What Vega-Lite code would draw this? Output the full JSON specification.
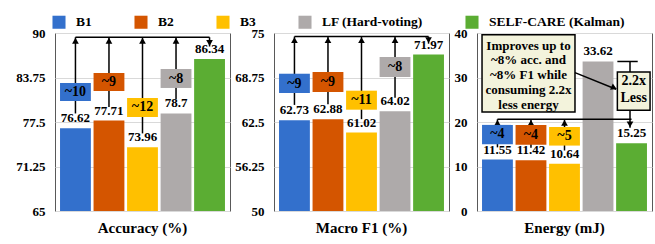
{
  "$schema": "https://vega.github.io/schema/vega-lite/v6.json",
  "padding": {"left": 15, "top": 15, "right": 4, "bottom": 4},
  "spacing": 3,
  "datasets": {
    "acc": [
      {"method": "B1", "value": 76.62},
      {"method": "B2", "value": 77.71},
      {"method": "B3", "value": 73.96},
      {"method": "LF (Hard-voting)", "value": 78.7},
      {"method": "SELF-CARE (Kalman)", "value": 86.34}
    ],
    "f1": [
      {"method": "B1", "value": 62.73},
      {"method": "B2", "value": 62.88},
      {"method": "B3", "value": 61.02},
      {"method": "LF (Hard-voting)", "value": 64.02},
      {"method": "SELF-CARE (Kalman)", "value": 71.97}
    ],
    "en": [
      {"method": "B1", "value": 11.55},
      {"method": "B2", "value": 11.42},
      {"method": "B3", "value": 10.64},
      {"method": "LF (Hard-voting)", "value": 33.62},
      {"method": "SELF-CARE (Kalman)", "value": 15.25}
    ],
    "accArrow": [
      {"method": "B1", "lo": 78.7, "hi": 89.4, "blo": 80.45, "bhi": 82.98, "bmid": 81.7, "lab": "~10"},
      {"method": "B2", "lo": 79.6, "hi": 89.4, "blo": 81.85, "bhi": 84.38, "bmid": 83.1, "lab": "~9"},
      {"method": "B3", "lo": 75.9, "hi": 89.4, "blo": 78.2, "bhi": 80.87, "bmid": 79.55, "lab": "~12"},
      {"method": "LF (Hard-voting)", "lo": 80.7, "hi": 89.4, "blo": 82.28, "bhi": 84.94, "bmid": 83.6, "lab": "~8"}
    ],
    "accLine": [{"from": "B1", "to": "SELF-CARE (Kalman)", "y": 89.4, "tip": 88.1}],
    "f1Arrow": [
      {"method": "B1", "lo": 64.9, "hi": 74.5, "blo": 66.57, "bhi": 69.28, "bmid": 67.9, "lab": "~9"},
      {"method": "B2", "lo": 65.0, "hi": 74.5, "blo": 66.71, "bhi": 69.52, "bmid": 68.1, "lab": "~9"},
      {"method": "B3", "lo": 62.9, "hi": 74.5, "blo": 64.23, "bhi": 66.9, "bmid": 65.55, "lab": "~11"},
      {"method": "LF (Hard-voting)", "lo": 65.9, "hi": 74.5, "blo": 68.82, "bhi": 71.63, "bmid": 70.2, "lab": "~8"}
    ],
    "f1Line": [{"from": "B1", "to": "SELF-CARE (Kalman)", "y": 74.5, "tip": 73.5}],
    "enArrow": [
      {"method": "B1", "lo": 14.3, "hi": 20.6, "blo": 15.0, "bhi": 19.35, "bmid": 17.2, "lab": "~4"},
      {"method": "B2", "lo": 14.2, "hi": 20.6, "blo": 14.9, "bhi": 19.3, "bmid": 17.1, "lab": "~4"},
      {"method": "B3", "lo": 13.6, "hi": 20.6, "blo": 14.7, "bhi": 18.88, "bmid": 16.8, "lab": "~5"}
    ],
    "enLine": [{"from": "B1", "to": "SELF-CARE (Kalman)", "y": 20.6, "cap": 33.6, "tip": 18.7}],
    "enBigBox": [{"from": "B1", "to": "B3", "at": "B2", "lo": 22.25, "hi": 39.62, "top": 38.5, "text": "Improves up to\n~8% acc. and\n~8% F1 while\nconsuming 2.2x\nless energy"}],
    "enSmallBox": [{"at": "SELF-CARE (Kalman)", "lo": 22.63, "hi": 31.24, "top": 30.75, "text": "2.2x\nLess"}],
    "enDiag": [{"from": "B3", "to": "SELF-CARE (Kalman)", "head": "LF (Hard-voting)", "y1": 31.1, "y2": 27.37, "yh": 27.68}]
  },
  "hconcat": [
    {
      "width": 175, "height": 178,
      "title": {"text": "Accuracy (%)"},
      "layer": [
        {"data": {"name": "acc"}, "mark": {"type": "bar"},
         "encoding": {
           "x": {"field": "method", "type": "nominal", "scale": {"domain": ["B1","B2","B3","LF (Hard-voting)","SELF-CARE (Kalman)"], "paddingInner": 0.08, "paddingOuter": 0.15}, "axis": null},
           "y": {"field": "value", "type": "quantitative", "scale": {"domain": [65, 90], "nice": false, "zero": false}, "axis": {"values": [65, 71.25, 77.5, 83.75, 90], "title": null, "labelExpr": "datum.value"}},
           "y2": {"datum": 65},
           "color": {"field": "method", "type": "nominal", "scale": {"domain": ["B1","B2","B3","LF (Hard-voting)","SELF-CARE (Kalman)"], "range": ["#3370CC","#D45500","#FFC000","#AEAAAA","#5BAD33"]}, "legend": {"orient": "none", "legendX": -3, "legendY": -18, "direction": "horizontal", "title": null}}
         }},
        {"data": {"name": "acc"}, "mark": {"type": "text", "baseline": "bottom", "dy": -3},
         "encoding": {
           "x": {"field": "method", "type": "nominal", "scale": {"domain": ["B1","B2","B3","LF (Hard-voting)","SELF-CARE (Kalman)"], "paddingInner": 0.08, "paddingOuter": 0.15}, "axis": null},
           "y": {"field": "value", "type": "quantitative", "scale": {"domain": [65, 90], "nice": false, "zero": false}, "axis": {"values": [65, 71.25, 77.5, 83.75, 90], "title": null, "labelExpr": "datum.value"}},
           "text": {"field": "value"}
         }},
        {"data": {"name": "accArrow"}, "mark": {"type": "rule", "color": "black", "strokeWidth": 1.5},
         "encoding": {
           "x": {"field": "method", "type": "nominal", "scale": {"domain": ["B1","B2","B3","LF (Hard-voting)","SELF-CARE (Kalman)"], "paddingInner": 0.08, "paddingOuter": 0.15}, "axis": null},
           "y": {"field": "lo", "type": "quantitative", "scale": {"domain": [65, 90], "nice": false, "zero": false}, "axis": {"values": [65, 71.25, 77.5, 83.75, 90], "title": null, "labelExpr": "datum.value"}},
           "y2": {"field": "hi"}
         }},
        {"data": {"name": "accLine"}, "mark": {"type": "rule", "color": "black", "strokeWidth": 1.5},
         "encoding": {
           "x": {"field": "from", "type": "nominal", "scale": {"domain": ["B1","B2","B3","LF (Hard-voting)","SELF-CARE (Kalman)"], "paddingInner": 0.08, "paddingOuter": 0.15}, "axis": null},
           "x2": {"field": "to"},
           "y": {"field": "y", "type": "quantitative", "scale": {"domain": [65, 90], "nice": false, "zero": false}, "axis": {"values": [65, 71.25, 77.5, 83.75, 90], "title": null, "labelExpr": "datum.value"}}
         }},
        {"data": {"name": "accLine"}, "mark": {"type": "rule", "color": "black", "strokeWidth": 1.5},
         "encoding": {
           "x": {"field": "to", "type": "nominal", "scale": {"domain": ["B1","B2","B3","LF (Hard-voting)","SELF-CARE (Kalman)"], "paddingInner": 0.08, "paddingOuter": 0.15}, "axis": null},
           "y": {"field": "y", "type": "quantitative", "scale": {"domain": [65, 90], "nice": false, "zero": false}, "axis": {"values": [65, 71.25, 77.5, 83.75, 90], "title": null, "labelExpr": "datum.value"}},
           "y2": {"field": "tip"}
         }},
        {"data": {"name": "accArrow"}, "mark": {"type": "point", "shape": "triangle-up", "filled": true, "color": "black", "size": 45, "opacity": 1, "yOffset": 3.5},
         "encoding": {
           "x": {"field": "method", "type": "nominal", "scale": {"domain": ["B1","B2","B3","LF (Hard-voting)","SELF-CARE (Kalman)"], "paddingInner": 0.08, "paddingOuter": 0.15}, "axis": null},
           "y": {"field": "hi", "type": "quantitative", "scale": {"domain": [65, 90], "nice": false, "zero": false}, "axis": {"values": [65, 71.25, 77.5, 83.75, 90], "title": null, "labelExpr": "datum.value"}}
         }},
        {"data": {"name": "accLine"}, "mark": {"type": "point", "shape": "triangle-down", "filled": true, "color": "black", "size": 45, "opacity": 1, "yOffset": -3.5},
         "encoding": {
           "x": {"field": "to", "type": "nominal", "scale": {"domain": ["B1","B2","B3","LF (Hard-voting)","SELF-CARE (Kalman)"], "paddingInner": 0.08, "paddingOuter": 0.15}, "axis": null},
           "y": {"field": "tip", "type": "quantitative", "scale": {"domain": [65, 90], "nice": false, "zero": false}, "axis": {"values": [65, 71.25, 77.5, 83.75, 90], "title": null, "labelExpr": "datum.value"}}
         }},
        {"data": {"name": "accArrow"}, "mark": {"type": "bar"},
         "encoding": {
           "x": {"field": "method", "type": "nominal", "scale": {"domain": ["B1","B2","B3","LF (Hard-voting)","SELF-CARE (Kalman)"], "paddingInner": 0.08, "paddingOuter": 0.15}, "axis": null},
           "y": {"field": "blo", "type": "quantitative", "scale": {"domain": [65, 90], "nice": false, "zero": false}, "axis": {"values": [65, 71.25, 77.5, 83.75, 90], "title": null, "labelExpr": "datum.value"}},
           "y2": {"field": "bhi"},
           "color": {"field": "method", "type": "nominal", "scale": {"domain": ["B1","B2","B3","LF (Hard-voting)","SELF-CARE (Kalman)"], "range": ["#3370CC","#D45500","#FFC000","#AEAAAA","#5BAD33"]}, "legend": null}
         }},
        {"data": {"name": "accArrow"}, "mark": {"type": "text", "baseline": "middle", "fontSize": 14},
         "encoding": {
           "x": {"field": "method", "type": "nominal", "scale": {"domain": ["B1","B2","B3","LF (Hard-voting)","SELF-CARE (Kalman)"], "paddingInner": 0.08, "paddingOuter": 0.15}, "axis": null},
           "y": {"field": "bmid", "type": "quantitative", "scale": {"domain": [65, 90], "nice": false, "zero": false}, "axis": {"values": [65, 71.25, 77.5, 83.75, 90], "title": null, "labelExpr": "datum.value"}},
           "text": {"field": "lab"}
         }}
      ]
    },
    {
      "width": 175, "height": 178,
      "title": {"text": "Macro F1 (%)"},
      "layer": [
        {"data": {"name": "f1"}, "mark": {"type": "bar"},
         "encoding": {
           "x": {"field": "method", "type": "nominal", "scale": {"domain": ["B1","B2","B3","LF (Hard-voting)","SELF-CARE (Kalman)"], "paddingInner": 0.08, "paddingOuter": 0.15}, "axis": null},
           "y": {"field": "value", "type": "quantitative", "scale": {"domain": [50, 75], "nice": false, "zero": false}, "axis": {"values": [50, 56.25, 62.5, 68.75, 75], "title": null, "labelExpr": "datum.value"}},
           "y2": {"datum": 50},
           "color": {"field": "method", "type": "nominal", "scale": {"domain": ["B1","B2","B3","LF (Hard-voting)","SELF-CARE (Kalman)"], "range": ["#3370CC","#D45500","#FFC000","#AEAAAA","#5BAD33"]}, "legend": {"orient": "none", "legendX": -3, "legendY": -18, "direction": "horizontal", "title": null}}
         }},
        {"data": {"name": "f1"}, "mark": {"type": "text", "baseline": "bottom", "dy": -3},
         "encoding": {
           "x": {"field": "method", "type": "nominal", "scale": {"domain": ["B1","B2","B3","LF (Hard-voting)","SELF-CARE (Kalman)"], "paddingInner": 0.08, "paddingOuter": 0.15}, "axis": null},
           "y": {"field": "value", "type": "quantitative", "scale": {"domain": [50, 75], "nice": false, "zero": false}, "axis": {"values": [50, 56.25, 62.5, 68.75, 75], "title": null, "labelExpr": "datum.value"}},
           "text": {"field": "value"}
         }},
        {"data": {"name": "f1Arrow"}, "mark": {"type": "rule", "color": "black", "strokeWidth": 1.5},
         "encoding": {
           "x": {"field": "method", "type": "nominal", "scale": {"domain": ["B1","B2","B3","LF (Hard-voting)","SELF-CARE (Kalman)"], "paddingInner": 0.08, "paddingOuter": 0.15}, "axis": null},
           "y": {"field": "lo", "type": "quantitative", "scale": {"domain": [50, 75], "nice": false, "zero": false}, "axis": {"values": [50, 56.25, 62.5, 68.75, 75], "title": null, "labelExpr": "datum.value"}},
           "y2": {"field": "hi"}
         }},
        {"data": {"name": "f1Line"}, "mark": {"type": "rule", "color": "black", "strokeWidth": 1.5},
         "encoding": {
           "x": {"field": "from", "type": "nominal", "scale": {"domain": ["B1","B2","B3","LF (Hard-voting)","SELF-CARE (Kalman)"], "paddingInner": 0.08, "paddingOuter": 0.15}, "axis": null},
           "x2": {"field": "to"},
           "y": {"field": "y", "type": "quantitative", "scale": {"domain": [50, 75], "nice": false, "zero": false}, "axis": {"values": [50, 56.25, 62.5, 68.75, 75], "title": null, "labelExpr": "datum.value"}}
         }},
        {"data": {"name": "f1Line"}, "mark": {"type": "rule", "color": "black", "strokeWidth": 1.5},
         "encoding": {
           "x": {"field": "to", "type": "nominal", "scale": {"domain": ["B1","B2","B3","LF (Hard-voting)","SELF-CARE (Kalman)"], "paddingInner": 0.08, "paddingOuter": 0.15}, "axis": null},
           "y": {"field": "y", "type": "quantitative", "scale": {"domain": [50, 75], "nice": false, "zero": false}, "axis": {"values": [50, 56.25, 62.5, 68.75, 75], "title": null, "labelExpr": "datum.value"}},
           "y2": {"field": "tip"}
         }},
        {"data": {"name": "f1Arrow"}, "mark": {"type": "point", "shape": "triangle-up", "filled": true, "color": "black", "size": 45, "opacity": 1, "yOffset": 3.5},
         "encoding": {
           "x": {"field": "method", "type": "nominal", "scale": {"domain": ["B1","B2","B3","LF (Hard-voting)","SELF-CARE (Kalman)"], "paddingInner": 0.08, "paddingOuter": 0.15}, "axis": null},
           "y": {"field": "hi", "type": "quantitative", "scale": {"domain": [50, 75], "nice": false, "zero": false}, "axis": {"values": [50, 56.25, 62.5, 68.75, 75], "title": null, "labelExpr": "datum.value"}}
         }},
        {"data": {"name": "f1Line"}, "mark": {"type": "point", "shape": "triangle-down", "filled": true, "color": "black", "size": 45, "opacity": 1, "yOffset": -3.5},
         "encoding": {
           "x": {"field": "to", "type": "nominal", "scale": {"domain": ["B1","B2","B3","LF (Hard-voting)","SELF-CARE (Kalman)"], "paddingInner": 0.08, "paddingOuter": 0.15}, "axis": null},
           "y": {"field": "tip", "type": "quantitative", "scale": {"domain": [50, 75], "nice": false, "zero": false}, "axis": {"values": [50, 56.25, 62.5, 68.75, 75], "title": null, "labelExpr": "datum.value"}}
         }},
        {"data": {"name": "f1Arrow"}, "mark": {"type": "bar"},
         "encoding": {
           "x": {"field": "method", "type": "nominal", "scale": {"domain": ["B1","B2","B3","LF (Hard-voting)","SELF-CARE (Kalman)"], "paddingInner": 0.08, "paddingOuter": 0.15}, "axis": null},
           "y": {"field": "blo", "type": "quantitative", "scale": {"domain": [50, 75], "nice": false, "zero": false}, "axis": {"values": [50, 56.25, 62.5, 68.75, 75], "title": null, "labelExpr": "datum.value"}},
           "y2": {"field": "bhi"},
           "color": {"field": "method", "type": "nominal", "scale": {"domain": ["B1","B2","B3","LF (Hard-voting)","SELF-CARE (Kalman)"], "range": ["#3370CC","#D45500","#FFC000","#AEAAAA","#5BAD33"]}, "legend": null}
         }},
        {"data": {"name": "f1Arrow"}, "mark": {"type": "text", "baseline": "middle", "fontSize": 14},
         "encoding": {
           "x": {"field": "method", "type": "nominal", "scale": {"domain": ["B1","B2","B3","LF (Hard-voting)","SELF-CARE (Kalman)"], "paddingInner": 0.08, "paddingOuter": 0.15}, "axis": null},
           "y": {"field": "bmid", "type": "quantitative", "scale": {"domain": [50, 75], "nice": false, "zero": false}, "axis": {"values": [50, 56.25, 62.5, 68.75, 75], "title": null, "labelExpr": "datum.value"}},
           "text": {"field": "lab"}
         }}
      ]
    },
    {
      "width": 175, "height": 178,
      "title": {"text": "Energy (mJ)"},
      "layer": [
        {"data": {"name": "en"}, "mark": {"type": "bar"},
         "encoding": {
           "x": {"field": "method", "type": "nominal", "scale": {"domain": ["B1","B2","B3","LF (Hard-voting)","SELF-CARE (Kalman)"], "paddingInner": 0.08, "paddingOuter": 0.15}, "axis": null},
           "y": {"field": "value", "type": "quantitative", "scale": {"domain": [0, 40], "nice": false}, "axis": {"values": [0, 10, 20, 30, 40], "title": null, "labelExpr": "datum.value"}},
           "color": {"field": "method", "type": "nominal", "scale": {"domain": ["B1","B2","B3","LF (Hard-voting)","SELF-CARE (Kalman)"], "range": ["#3370CC","#D45500","#FFC000","#AEAAAA","#5BAD33"]}, "legend": {"orient": "none", "legendX": -3, "legendY": -18, "direction": "horizontal", "title": null}}
         }},
        {"data": {"name": "en"}, "mark": {"type": "text", "baseline": "bottom", "dy": -3},
         "encoding": {
           "x": {"field": "method", "type": "nominal", "scale": {"domain": ["B1","B2","B3","LF (Hard-voting)","SELF-CARE (Kalman)"], "paddingInner": 0.08, "paddingOuter": 0.15}, "axis": null},
           "y": {"field": "value", "type": "quantitative", "scale": {"domain": [0, 40], "nice": false}, "axis": {"values": [0, 10, 20, 30, 40], "title": null, "labelExpr": "datum.value"}},
           "text": {"field": "value"}
         }},
        {"data": {"name": "enArrow"}, "mark": {"type": "rule", "color": "black", "strokeWidth": 1.5},
         "encoding": {
           "x": {"field": "method", "type": "nominal", "scale": {"domain": ["B1","B2","B3","LF (Hard-voting)","SELF-CARE (Kalman)"], "paddingInner": 0.08, "paddingOuter": 0.15}, "axis": null},
           "y": {"field": "lo", "type": "quantitative", "scale": {"domain": [0, 40], "nice": false}, "axis": {"values": [0, 10, 20, 30, 40], "title": null, "labelExpr": "datum.value"}},
           "y2": {"field": "hi"}
         }},
        {"data": {"name": "enLine"}, "mark": {"type": "rule", "color": "black", "strokeWidth": 1.5},
         "encoding": {
           "x": {"field": "from", "type": "nominal", "scale": {"domain": ["B1","B2","B3","LF (Hard-voting)","SELF-CARE (Kalman)"], "paddingInner": 0.08, "paddingOuter": 0.15}, "axis": null},
           "x2": {"field": "to"},
           "y": {"field": "y", "type": "quantitative", "scale": {"domain": [0, 40], "nice": false}, "axis": {"values": [0, 10, 20, 30, 40], "title": null, "labelExpr": "datum.value"}}
         }},
        {"data": {"name": "enLine"}, "mark": {"type": "rule", "color": "black", "strokeWidth": 1.5},
         "encoding": {
           "x": {"field": "to", "type": "nominal", "bandPosition": 0.45, "scale": {"domain": ["B1","B2","B3","LF (Hard-voting)","SELF-CARE (Kalman)"], "paddingInner": 0.08, "paddingOuter": 0.15}, "axis": null},
           "y": {"field": "cap", "type": "quantitative", "scale": {"domain": [0, 40], "nice": false}, "axis": {"values": [0, 10, 20, 30, 40], "title": null, "labelExpr": "datum.value"}},
           "y2": {"field": "tip"}
         }},
        {"data": {"name": "enLine"}, "mark": {"type": "rule", "color": "black", "strokeWidth": 1.5},
         "encoding": {
           "x": {"field": "to", "type": "nominal", "bandPosition": 0.04, "scale": {"domain": ["B1","B2","B3","LF (Hard-voting)","SELF-CARE (Kalman)"], "paddingInner": 0.08, "paddingOuter": 0.15}, "axis": null},
           "x2": {"field": "to", "bandPosition": 0.7},
           "y": {"field": "cap", "type": "quantitative", "scale": {"domain": [0, 40], "nice": false}, "axis": {"values": [0, 10, 20, 30, 40], "title": null, "labelExpr": "datum.value"}}
         }},
        {"data": {"name": "enArrow"}, "mark": {"type": "point", "shape": "triangle-up", "filled": true, "color": "black", "size": 45, "opacity": 1, "yOffset": 3.5},
         "encoding": {
           "x": {"field": "method", "type": "nominal", "scale": {"domain": ["B1","B2","B3","LF (Hard-voting)","SELF-CARE (Kalman)"], "paddingInner": 0.08, "paddingOuter": 0.15}, "axis": null},
           "y": {"field": "hi", "type": "quantitative", "scale": {"domain": [0, 40], "nice": false}, "axis": {"values": [0, 10, 20, 30, 40], "title": null, "labelExpr": "datum.value"}}
         }},
        {"data": {"name": "enLine"}, "mark": {"type": "point", "shape": "triangle-down", "filled": true, "color": "black", "size": 45, "opacity": 1, "yOffset": -3.5},
         "encoding": {
           "x": {"field": "to", "type": "nominal", "bandPosition": 0.45, "scale": {"domain": ["B1","B2","B3","LF (Hard-voting)","SELF-CARE (Kalman)"], "paddingInner": 0.08, "paddingOuter": 0.15}, "axis": null},
           "y": {"field": "tip", "type": "quantitative", "scale": {"domain": [0, 40], "nice": false}, "axis": {"values": [0, 10, 20, 30, 40], "title": null, "labelExpr": "datum.value"}}
         }},
        {"data": {"name": "enArrow"}, "mark": {"type": "bar"},
         "encoding": {
           "x": {"field": "method", "type": "nominal", "scale": {"domain": ["B1","B2","B3","LF (Hard-voting)","SELF-CARE (Kalman)"], "paddingInner": 0.08, "paddingOuter": 0.15}, "axis": null},
           "y": {"field": "blo", "type": "quantitative", "scale": {"domain": [0, 40], "nice": false}, "axis": {"values": [0, 10, 20, 30, 40], "title": null, "labelExpr": "datum.value"}},
           "y2": {"field": "bhi"},
           "color": {"field": "method", "type": "nominal", "scale": {"domain": ["B1","B2","B3","LF (Hard-voting)","SELF-CARE (Kalman)"], "range": ["#3370CC","#D45500","#FFC000","#AEAAAA","#5BAD33"]}, "legend": null}
         }},
        {"data": {"name": "enArrow"}, "mark": {"type": "text", "baseline": "middle", "fontSize": 14},
         "encoding": {
           "x": {"field": "method", "type": "nominal", "scale": {"domain": ["B1","B2","B3","LF (Hard-voting)","SELF-CARE (Kalman)"], "paddingInner": 0.08, "paddingOuter": 0.15}, "axis": null},
           "y": {"field": "bmid", "type": "quantitative", "scale": {"domain": [0, 40], "nice": false}, "axis": {"values": [0, 10, 20, 30, 40], "title": null, "labelExpr": "datum.value"}},
           "text": {"field": "lab"}
         }},
        {"data": {"name": "enBigBox"}, "mark": {"type": "rect", "fill": "#F3F3DC", "stroke": "black", "strokeWidth": 1.5},
         "encoding": {
           "x": {"field": "from", "type": "nominal", "bandPosition": 0, "scale": {"domain": ["B1","B2","B3","LF (Hard-voting)","SELF-CARE (Kalman)"], "paddingInner": 0.08, "paddingOuter": 0.15}, "axis": null},
           "x2": {"field": "to", "bandPosition": 0.84},
           "y": {"field": "lo", "type": "quantitative", "scale": {"domain": [0, 40], "nice": false}, "axis": {"values": [0, 10, 20, 30, 40], "title": null, "labelExpr": "datum.value"}},
           "y2": {"field": "hi"}
         }},
        {"data": {"name": "enBigBox"}, "mark": {"type": "text", "baseline": "top", "fontSize": 13, "lineBreak": "\n", "lineHeight": 14.8},
         "encoding": {
           "x": {"field": "at", "type": "nominal", "bandPosition": 0.42, "scale": {"domain": ["B1","B2","B3","LF (Hard-voting)","SELF-CARE (Kalman)"], "paddingInner": 0.08, "paddingOuter": 0.15}, "axis": null},
           "y": {"field": "top", "type": "quantitative", "scale": {"domain": [0, 40], "nice": false}, "axis": {"values": [0, 10, 20, 30, 40], "title": null, "labelExpr": "datum.value"}},
           "text": {"field": "text"}
         }},
        {"data": {"name": "enDiag"}, "mark": {"type": "rule", "color": "black", "strokeWidth": 1.5},
         "encoding": {
           "x": {"field": "from", "type": "nominal", "bandPosition": 0.84, "scale": {"domain": ["B1","B2","B3","LF (Hard-voting)","SELF-CARE (Kalman)"], "paddingInner": 0.08, "paddingOuter": 0.15}, "axis": null},
           "x2": {"field": "to", "bandPosition": 0.0},
           "y": {"field": "y1", "type": "quantitative", "scale": {"domain": [0, 40], "nice": false}, "axis": {"values": [0, 10, 20, 30, 40], "title": null, "labelExpr": "datum.value"}},
           "y2": {"field": "y2"}
         }},
        {"data": {"name": "enDiag"}, "mark": {"type": "point", "shape": "triangle-right", "filled": true, "color": "black", "size": 45, "opacity": 1, "angle": 24},
         "encoding": {
           "x": {"field": "head", "type": "nominal", "bandPosition": 1.02, "scale": {"domain": ["B1","B2","B3","LF (Hard-voting)","SELF-CARE (Kalman)"], "paddingInner": 0.08, "paddingOuter": 0.15}, "axis": null},
           "y": {"field": "yh", "type": "quantitative", "scale": {"domain": [0, 40], "nice": false}, "axis": {"values": [0, 10, 20, 30, 40], "title": null, "labelExpr": "datum.value"}}
         }},
        {"data": {"name": "enSmallBox"}, "mark": {"type": "rect", "fill": "#F3F3DC", "stroke": "black", "strokeWidth": 1.5},
         "encoding": {
           "x": {"field": "at", "type": "nominal", "bandPosition": 0.04, "scale": {"domain": ["B1","B2","B3","LF (Hard-voting)","SELF-CARE (Kalman)"], "paddingInner": 0.08, "paddingOuter": 0.15}, "axis": null},
           "x2": {"field": "at", "bandPosition": 1.1},
           "y": {"field": "lo", "type": "quantitative", "scale": {"domain": [0, 40], "nice": false}, "axis": {"values": [0, 10, 20, 30, 40], "title": null, "labelExpr": "datum.value"}},
           "y2": {"field": "hi"}
         }},
        {"data": {"name": "enSmallBox"}, "mark": {"type": "text", "baseline": "top", "fontSize": 14, "lineBreak": "\n", "lineHeight": 17},
         "encoding": {
           "x": {"field": "at", "type": "nominal", "bandPosition": 0.57, "scale": {"domain": ["B1","B2","B3","LF (Hard-voting)","SELF-CARE (Kalman)"], "paddingInner": 0.08, "paddingOuter": 0.15}, "axis": null},
           "y": {"field": "top", "type": "quantitative", "scale": {"domain": [0, 40], "nice": false}, "axis": {"values": [0, 10, 20, 30, 40], "title": null, "labelExpr": "datum.value"}},
           "text": {"field": "text"}
         }}
      ]
    }
  ],
  "config": {
    "font": "Liberation Serif",
    "background": "white",
    "view": {"stroke": "#595959", "strokeWidth": 1},
    "title": {"orient": "bottom", "frame": "group", "anchor": "middle", "baseline": "top", "offset": 3, "font": "Liberation Serif", "fontSize": 15, "fontWeight": "bold", "color": "black"},
    "axis": {
      "labelFont": "Liberation Serif", "labelFontSize": 13, "labelFontWeight": "bold", "labelColor": "black",
      "gridColor": "#d9d9d9", "gridWidth": 1, "ticks": false, "domain": false, "labelPadding": 10
    },
    "axisY": {"grid": true},
    "legend": {
      "symbolType": "square", "symbolSize": 170, "symbolStrokeWidth": 0, "symbolOpacity": 1,
      "labelFont": "Liberation Serif", "labelFontSize": 13.5, "labelFontWeight": "bold", "labelColor": "black",
      "labelOffset": 10, "columnPadding": 42, "labelLimit": 300
    },
    "text": {"font": "Liberation Serif", "fontWeight": "bold", "fontSize": 13, "color": "black"},
    "bar": {"cornerRadius": 0}
  }
}
